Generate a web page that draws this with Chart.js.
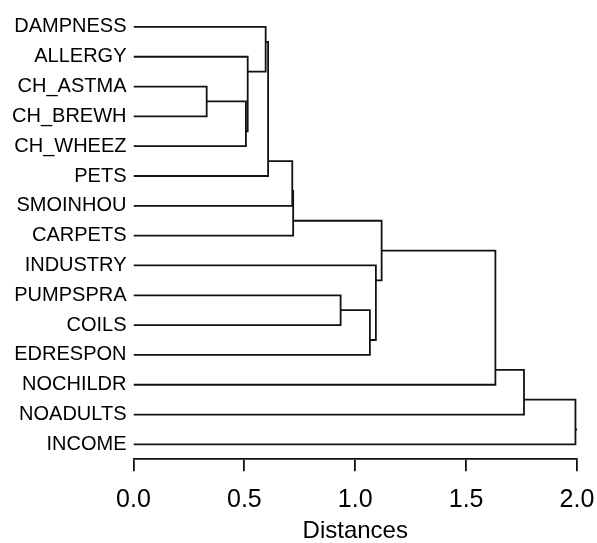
<!DOCTYPE html>
<html>
<head>
<meta charset="utf-8">
<script src="https://cdn.jsdelivr.net/npm/chart.js@4"></script>
<style>
  html, body { margin: 0; padding: 0; background: #fff; }
  #wrap { width: 597px; height: 543px; }
</style>
</head>
<body>
<div id="wrap"><canvas id="tree" width="597" height="543"></canvas></div>
<script>
// leaves, top to bottom
const leafLabels = [
    'DAMPNESS', 'ALLERGY', 'CH_ASTMA', 'CH_BREWH', 'CH_WHEEZ', 'PETS',
    'SMOINHOU', 'CARPETS', 'INDUSTRY', 'PUMPSPRA', 'COILS', 'EDRESPON',
    'NOCHILDR', 'NOADULTS', 'INCOME'
];
// merges in order; ids 0-14 are leaves, 15+ are earlier merges
const mergeLeft = [2, 15, 1, 0, 18, 19, 20, 9, 22, 8, 21, 25, 26, 27];
const mergeRight = [3, 4, 16, 17, 5, 6, 7, 10, 11, 23, 24, 12, 13, 14];
const mergeHeights = [0.330, 0.507, 0.515, 0.596, 0.607, 0.716, 0.720, 0.934, 1.066, 1.093, 1.119, 1.632, 1.761, 1.993];
const distanceTicks = [0, 0.5, 1.0, 1.5, 2.0];

const LINE = '#111';
const FONT = 'Arial, "Liberation Sans", Helvetica, sans-serif';

// node stems: leaf sits on its own row, a merge sits between its two groups
const nodes = leafLabels.map((_, i) => ({ h: 0, y: i, lo: i, hi: i }));
const datasets = [];
mergeHeights.forEach((h, k) => {
    const a = nodes[mergeLeft[k]];
    const b = nodes[mergeRight[k]];
    nodes.push({ h, y: (a.hi + b.lo) / 2, lo: a.lo, hi: b.hi });
    datasets.push({
        data: [{ x: a.h, y: a.y }, { x: h, y: a.y }, { x: h, y: b.y }, { x: b.h, y: b.y }]
    });
});
const root = nodes[nodes.length - 1];
datasets.push({ data: [{ x: root.h, y: root.y }, { x: root.h + 0.012, y: root.y }] });

new Chart(document.getElementById('tree'), {
    type: 'scatter',
    data: {
        datasets: datasets.map(ds => ({
            ...ds,
            showLine: true,
            borderColor: LINE,
            borderWidth: 1.8,
            pointRadius: 0,
            tension: 0,
            fill: false,
        }))
    },
    options: {
        responsive: false,
        animation: false,
        layout: { padding: { left: 0, right: 20, top: 12, bottom: 0 } },
        plugins: { legend: { display: false }, tooltip: { enabled: false } },
        scales: {
            x: {
                type: 'linear',
                min: 0,
                max: 2,
                afterBuildTicks: axis => { axis.ticks = distanceTicks.map(v => ({ value: v })); },
                afterFit: axis => {
                    axis.height = 83.7;
                    axis.paddingLeft = 0;
                    axis.paddingRight = 0;
                },
                grid: { drawOnChartArea: false, drawTicks: true, tickLength: 12, color: LINE, lineWidth: 1.8 },
                border: { display: true, color: LINE, width: 1.8 },
                ticks: {
                    color: '#000',
                    padding: 14,
                    maxRotation: 0,
                    font: { size: 25, family: FONT },
                    callback: v => v.toFixed(1)
                },
                title: {
                    display: true,
                    text: 'Distances',
                    color: '#000',
                    padding: 0,
                    font: { size: 24, family: FONT, lineHeight: 1 }
                }
            },
            y: {
                type: 'linear',
                min: -0.5,
                max: 14.5,
                reverse: true,
                afterBuildTicks: axis => { axis.ticks = leafLabels.map((_, i) => ({ value: i })); },
                afterFit: axis => {
                    axis.width = 133.5;
                    axis.paddingTop = 0;
                    axis.paddingBottom = 0;
                },
                grid: { display: false, drawTicks: false },
                border: { display: false },
                ticks: {
                    color: '#000',
                    padding: 7,
                    font: { size: 20, family: FONT },
                    callback: v => leafLabels[v]
                }
            }
        }
    }
});
</script>
</body>
</html>
